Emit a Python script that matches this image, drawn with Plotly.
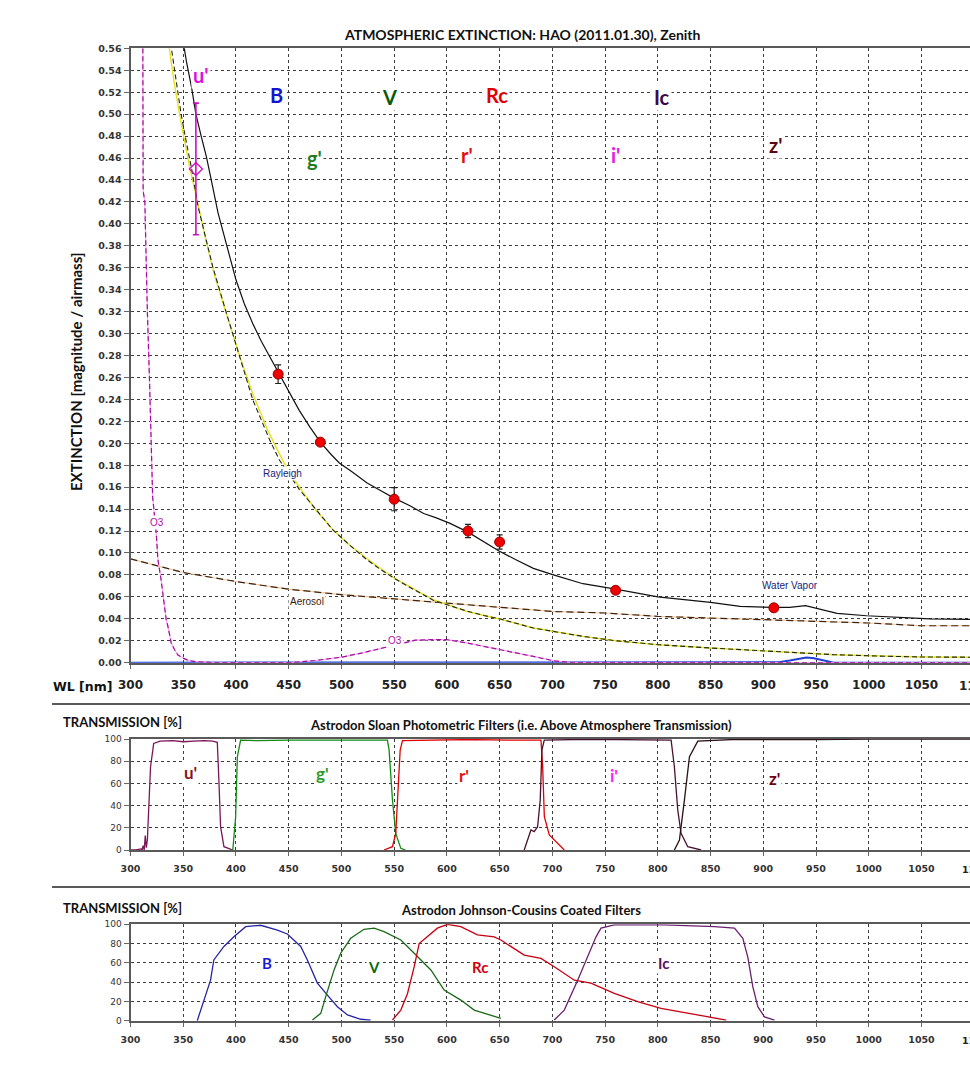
import plotly.graph_objects as go

W, H = 970, 1067

# ---------------- Atmospheric extinction (magnitude / airmass) ----------------
TOTAL_WL = [350, 353, 358, 362, 367, 372, 377, 383, 388, 394, 400, 408, 416, 424, 432, 441,
            450, 460, 470, 480, 490, 498, 510, 524, 537, 550, 565, 578, 590, 603, 620, 635,
            649, 665, 682, 701, 729, 760, 800, 850, 878, 910, 925, 940, 950, 970, 998, 1030,
            1058, 1100]
TOTAL_EXT = [0.566, 0.548, 0.524, 0.500, 0.480, 0.461, 0.438, 0.410, 0.392, 0.370, 0.349,
             0.327, 0.309, 0.293, 0.279, 0.264, 0.247, 0.230, 0.215, 0.201, 0.190, 0.182,
             0.174, 0.164, 0.157, 0.150, 0.143, 0.136, 0.132, 0.127, 0.119, 0.110, 0.102,
             0.094, 0.086, 0.080, 0.072, 0.067, 0.060, 0.055, 0.0513, 0.0504, 0.0504, 0.052,
             0.0498, 0.045, 0.0428, 0.041, 0.040, 0.0395]

MEAS_WL = [440, 480, 550, 620, 650, 760, 910]
MEAS_EXT = [0.263, 0.201, 0.149, 0.120, 0.110, 0.066, 0.050]
MEAS_ERR = [0.0085, 0.002, 0.0105, 0.006, 0.0065, 0.0012, 0.0012]

UBAND_WL = [362]
UBAND_EXT = [0.45]
UBAND_ERR = [0.06]

RAY_WL = [338, 343, 348, 353, 358, 364, 373, 378, 391, 403.5, 416, 432, 441, 460, 476, 492,
          508, 524, 537, 550, 568, 587, 603, 619, 635, 650, 682, 705, 729, 760, 800, 850,
          910, 967, 1010, 1051, 1100]
RAY_EXT = [0.565, 0.532, 0.500, 0.474, 0.450, 0.416, 0.379, 0.361, 0.3185, 0.279, 0.2395,
           0.203, 0.185, 0.158, 0.139, 0.121, 0.107, 0.094, 0.085, 0.077, 0.067, 0.057,
           0.052, 0.047, 0.043, 0.040, 0.0316, 0.028, 0.024, 0.020, 0.0164, 0.0134, 0.0103,
           0.0073, 0.006, 0.0052, 0.005]

RAYFIT_WL = [336, 342, 348, 356, 364, 372, 380, 392, 404, 416, 430, 445, 460, 476, 492, 508,
             524, 550, 587, 619, 650, 682, 729, 760, 800, 850, 910, 967, 1051, 1100]
RAYFIT_EXT = [0.565, 0.525, 0.492, 0.452, 0.418, 0.383, 0.352, 0.314, 0.278, 0.245, 0.212,
              0.183, 0.160, 0.139, 0.121, 0.107, 0.095, 0.077, 0.0574, 0.0467, 0.0398,
              0.0316, 0.024, 0.020, 0.0164, 0.0134, 0.0103, 0.0073, 0.0052, 0.005]

AER_WL = [300, 350, 400, 450, 500, 550, 600, 650, 700, 750, 800, 850, 900, 950, 1000, 1050, 1100]
AER_EXT = [0.0947, 0.0822, 0.074, 0.067, 0.062, 0.0583, 0.0544, 0.051, 0.0467, 0.0453,
           0.0422, 0.0407, 0.0392, 0.0371, 0.0362, 0.0337, 0.0337]

O3_WL = [311.7, 312.0, 313.6, 314.5, 316, 318, 319.6, 321, 324.4, 326, 329, 330.7, 333.9,
         335.5, 338.6, 341.8, 345, 349.6, 355, 362, 380, 420, 451, 475, 500, 520, 536, 555,
         570, 585, 600, 619, 635, 650, 666, 682, 701, 720, 1100]
O3_EXT = [0.56, 0.43, 0.42, 0.38, 0.32, 0.258, 0.188, 0.151, 0.118, 0.094, 0.0756, 0.0635,
          0.039, 0.033, 0.018, 0.0118, 0.007, 0.0043, 0.002, 0.001, 0.0, 0.0, 0.0, 0.002,
          0.005, 0.009, 0.0125, 0.017, 0.0205, 0.021, 0.021, 0.018, 0.015, 0.012, 0.0085,
          0.0057, 0.0018, 0.0, 0.0]

H2O_WL = [300, 900, 915, 925, 935, 941, 948, 958, 967, 1100]
H2O_EXT = [0, 0, 0.0005, 0.002, 0.004, 0.0048, 0.004, 0.002, 0, 0]

# ---------------- Sloan filters (% transmission) ----------------
U_WL = [300, 305, 310, 311, 312, 313, 314, 315, 316, 317.4, 319, 322, 328, 340, 350, 360, 370,
        378, 382.3, 383.8, 385.4, 388.6, 397]
U_T = [0, 0, 1, 0, 4, 0, 13, 2, 9, 45, 75, 96, 98, 98.5, 97.5, 98, 98.5, 98, 97, 63, 21, 3, 0]

G_WL = [395, 397, 399.7, 401.3, 404.4, 420, 450, 480, 500, 520, 543.6, 545.2, 548.4, 551.5,
        556.3, 560.7]
G_T = [0, 0, 30, 84, 99, 98.5, 99, 99, 98.5, 99, 99, 90, 45, 15, 1.5, 0]

R_WL = [540.4, 548.4, 551.5, 553.1, 555.7, 557.9, 580, 620, 660, 689.2, 690.8, 692.4, 697.1,
        705, 711.3]
R_T = [0, 3, 15, 45, 90, 98.5, 99, 99.5, 99, 99, 75, 30, 13.5, 6, 0]

I_WL = [673.3, 676.5, 679.7, 682.8, 686, 688.5, 690.1, 692.3, 720, 760, 800, 812.6, 815.7,
        818.9, 822, 828.4, 841]
I_T = [0, 9, 18, 16.5, 21, 45, 90, 99, 99.5, 99.5, 99.5, 99, 75, 36, 15, 3, 0]

Z_WL = [815.7, 820.5, 825.2, 830, 837.9, 870, 950, 1000, 1100]
Z_T = [0, 9, 45, 84, 98, 99.5, 99.5, 100, 100]

# ---------------- Johnson-Cousins filters (% transmission) ----------------
B_WL = [363.3, 369.6, 375.9, 379, 388.6, 398, 409.2, 423.4, 439.3, 448.7, 461.4, 467.7, 477.2,
        486.7, 496.2, 505.7, 518.3, 527.7]
B_T = [0, 21.5, 42, 63, 77, 87, 97.5, 99, 94, 90, 77, 63, 39, 26.6, 14.5, 6, 1.5, 0.5]

V_WL = [472.5, 480.4, 485.1, 493, 499.3, 508.8, 521.4, 531, 540.4, 556.3, 569, 584.8, 597.4,
        613.2, 625.9, 641.7, 651.2]
V_T = [0.7, 7.6, 25, 52.7, 70, 85.5, 94.8, 96, 92.4, 83.7, 70, 52.6, 31.8, 21.4, 11, 5.9, 2.4]

RC_WL = [548.4, 556.3, 562.6, 569, 573.7, 581.6, 591, 600.6, 613.2, 629, 641.7, 644.8, 651.2,
         673.3, 689.2, 701.8, 720.8, 736.6, 758.7, 780.9, 803, 828.4, 853.7, 864.8]
RC_T = [0.7, 11, 28, 56, 80, 87, 96, 100, 97.6, 89, 88, 87, 83.7, 68, 64.6, 56, 42, 39, 28.4,
        19.7, 12.8, 7.6, 2.4, 0.7]

IC_WL = [701.8, 711.3, 724, 733.5, 741.4, 746.1, 758.7, 806.2, 853.7, 872.7, 880.6, 885.3,
         890.1, 894.8, 901.1, 910.6]
IC_T = [0.7, 11, 42, 66, 87, 96, 99.3, 99.3, 97.6, 96, 85.5, 66, 35, 14.5, 4, 0.7]

X_MIN, X_MAX = 300, 1096
X_TICKS = list(range(300, 1101, 50))

fig = go.Figure()


def line(x, y, ax, color, width=1.2, dash=None):
    fig.add_trace(go.Scatter(x=x, y=y, xaxis=ax[0], yaxis=ax[1], mode="lines",
                             line=dict(color=color, width=width, dash=dash),
                             hoverinfo="skip"))


top = ("x", "y")
mid = ("x2", "y2")
bot = ("x3", "y3")

# extinction components
line(H2O_WL, H2O_EXT, top, "#1f3fd6", 2)
line(AER_WL, AER_EXT, top, "#f3c79a", 1.2)
line(AER_WL, AER_EXT, top, "#3a2416", 1.2, "7px,4px")
line(O3_WL, O3_EXT, top, "#f6a8f2", 1.2)
line(O3_WL, O3_EXT, top, "#a0109a", 1.2, "5px,3px")
line(RAYFIT_WL, RAYFIT_EXT, top, "#e8e020", 1.4)
line(RAY_WL, RAY_EXT, top, "#1a2a1a", 1.1, "5px,3px")
line(TOTAL_WL, TOTAL_EXT, top, "#111111", 1.2)

fig.add_trace(go.Scatter(
    x=MEAS_WL, y=MEAS_EXT, xaxis="x", yaxis="y", mode="markers",
    marker=dict(symbol="circle", size=10, color="#ee0000", line=dict(color="#9a0000", width=1)),
    error_y=dict(type="data", array=MEAS_ERR, color="#222222", thickness=1.2, width=3),
    hoverinfo="skip"))
fig.add_trace(go.Scatter(
    x=UBAND_WL, y=UBAND_EXT, xaxis="x", yaxis="y", mode="markers",
    marker=dict(symbol="diamond-open", size=10, color="#d010c8", line=dict(width=1.3)),
    error_y=dict(type="data", array=UBAND_ERR, color="#c810b8", thickness=1.6, width=3),
    hoverinfo="skip"))

# Sloan filter curves
line(U_WL, U_T, mid, "#7c1556", 1.3)
line(G_WL, G_T, mid, "#128a12", 1.3)
line(R_WL, R_T, mid, "#e00000", 1.3)
line(I_WL, I_T, mid, "#4a1030", 1.3)
line(Z_WL, Z_T, mid, "#2a1010", 1.3)

# Johnson-Cousins filter curves
line(B_WL, B_T, bot, "#2424a8", 1.3)
line(V_WL, V_T, bot, "#1a6a1a", 1.3)
line(RC_WL, RC_T, bot, "#c80010", 1.3)
line(IC_WL, IC_T, bot, "#6a2070", 1.3)


def px_x(p):
    return p / W


def px_y(p):
    return 1 - p / H


LEFT = 130.5 / W
grid = dict(showgrid=True, gridcolor="#3c3c3c", griddash="3px,3px", gridwidth=1)
xbase = dict(range=[X_MIN, X_MAX], tickmode="array", tickvals=X_TICKS, automargin=False,
             ticks="outside", ticklen=4, tickcolor="#666", showline=True, linecolor="#5a5a5a",
             linewidth=2, mirror=True, zeroline=False, domain=[LEFT, 1], **grid)
ybase = dict(ticks="outside", ticklen=5, tickcolor="#666", showline=True, linecolor="#5a5a5a",
             linewidth=2, mirror=False, zeroline=False, automargin=False, **grid)

fig.update_layout(
    width=W, height=H, autosize=False, showlegend=False,
    margin=dict(l=0, r=0, t=0, b=0, pad=0, autoexpand=False),
    paper_bgcolor="white", plot_bgcolor="white",
    xaxis=dict(**xbase, anchor="y", ticklabelstandoff=6,
               tickfont=dict(family="DejaVu Sans", size=12, color="#222", weight="bold")),
    yaxis=dict(**ybase, anchor="x", range=[0, 0.56], tickmode="linear", tick0=0, dtick=0.02,
               tickformat=".2f", domain=[px_y(662.7), px_y(48.3)],
               tickfont=dict(family="DejaVu Sans", size=9.5, color="#333", weight="bold")),
    xaxis2=dict(**xbase, anchor="y2", ticklabelstandoff=5,
                tickfont=dict(family="DejaVu Sans", size=9.5, color="#333", weight="bold")),
    yaxis2=dict(**ybase, anchor="x2", range=[0, 100], tickmode="linear", tick0=0, dtick=20,
                domain=[px_y(850), px_y(739)],
                tickfont=dict(family="DejaVu Sans", size=9, color="#333")),
    xaxis3=dict(**xbase, anchor="y3", ticklabelstandoff=5,
                tickfont=dict(family="DejaVu Sans", size=9.5, color="#333", weight="bold")),
    yaxis3=dict(**ybase, anchor="x3", range=[0, 100], tickmode="linear", tick0=0, dtick=20,
                domain=[px_y(1020.7), px_y(924.3)],
                tickfont=dict(family="DejaVu Sans", size=9, color="#333")),
)

ann = []


def label(text, x, y, xref, yref, color, size=20, family="Lato", weight="bold", bg="white"):
    ann.append(dict(text=text, x=x, y=y, xref=xref, yref=yref, showarrow=False,
                    xanchor="center", yanchor="middle", bgcolor=bg, borderpad=1,
                    font=dict(family=family, size=size, color=color, weight=weight)))


# band names on the extinction panel
label("u'", 366.4, 0.5355, "x", "y", "#e010d8")
label("B", 438.6, 0.517, "x", "y", "#1414d0")
label("V", 545.8, 0.5155, "x", "y", "#0a5a0a")
label("Rc", 647.4, 0.517, "x", "y", "#e00000")
label("Ic", 804, 0.516, "x", "y", "#3c0848")
label("g'", 474.7, 0.46, "x", "y", "#1e7e1e")
label("r'", 619, 0.4627, "x", "y", "#e01010")
label("i'", 759.4, 0.4627, "x", "y", "#e020e0")
label("z'", 911.3, 0.4718, "x", "y", "#5a0814")

# component names
small = dict(family="Liberation Sans", size=10, weight="normal")
label("Rayleigh", 444, 0.172, "x", "y", "#1a1a78", **small)
label("Aerosol", 467, 0.0556, "x", "y", "#3a1a10", **small)
label("O3", 324.7, 0.128, "x", "y", "#b010b0", **small)
label("O3", 550.6, 0.02, "x", "y", "#b010b0", **small)
label("Water Vapor", 925.5, 0.070, "x", "y", "#1a1a78", **small)

# Sloan filter names
label("u'", 357, 70, "x2", "y2", "#8a1020", size=17)
label("g'", 482, 69, "x2", "y2", "#2a9a2a", size=17)
label("r'", 616.4, 67.5, "x2", "y2", "#e81010", size=17)
label("i'", 758.7, 67.5, "x2", "y2", "#ff20ff", size=17)
label("z'", 910.6, 64.6, "x2", "y2", "#700010", size=17)

# Johnson-Cousins filter names
label("B", 429.8, 59.8, "x3", "y3", "#1a1ad0", size=15)
label("V", 531, 55.6, "x3", "y3", "#0a6a0a", size=15)
label("Rc", 631.3, 55.6, "x3", "y3", "#d00010", size=15)
label("Ic", 805.5, 59.8, "x3", "y3", "#5a1060", size=15)

# titles and axis captions
label("ATMOSPHERIC EXTINCTION: HAO (2011.01.30), Zenith", px_x(522), px_y(35), "paper", "paper",
      "#111", size=14, bg=None)
label("WL [nm]", px_x(82), px_y(686), "paper", "paper", "#111", size=12.5,
      family="DejaVu Sans", bg=None)
ann.append(dict(text="EXTINCTION [magnitude / airmass]", x=px_x(76), y=px_y(372),
                xref="paper", yref="paper", showarrow=False, textangle=-90,
                xanchor="center", yanchor="middle",
                font=dict(family="Lato", size=15, color="#111", weight="bold")))
label("TRANSMISSION [%]", px_x(122), px_y(722), "paper", "paper", "#111", size=13, bg=None)
label("TRANSMISSION [%]", px_x(122), px_y(908), "paper", "paper", "#111", size=13, bg=None)
label("Astrodon Sloan Photometric Filters (i.e. Above Atmosphere Transmission)",
      px_x(521), px_y(725), "paper", "paper", "#111", size=13, bg=None)
label("Astrodon Johnson-Cousins Coated Filters", px_x(521), px_y(910), "paper", "paper",
      "#111", size=13, bg=None)

# 1100 nm tick labels, which fall just past the right edge of the page
for ypix, sz in ((686, 12), (869, 9.5), (1040, 9.5)):
    label("1100", px_x(975), px_y(ypix), "paper", "paper", "#222", size=sz,
          family="DejaVu Sans", bg=None)

fig.update_layout(annotations=ann)

# panel separators
for ypix in (704, 887):
    fig.add_shape(type="line", xref="paper", yref="paper", x0=px_x(52), x1=1,
                  y0=px_y(ypix), y1=px_y(ypix), line=dict(color="#5a5a5a", width=2))

fig.write_html("out.html")
